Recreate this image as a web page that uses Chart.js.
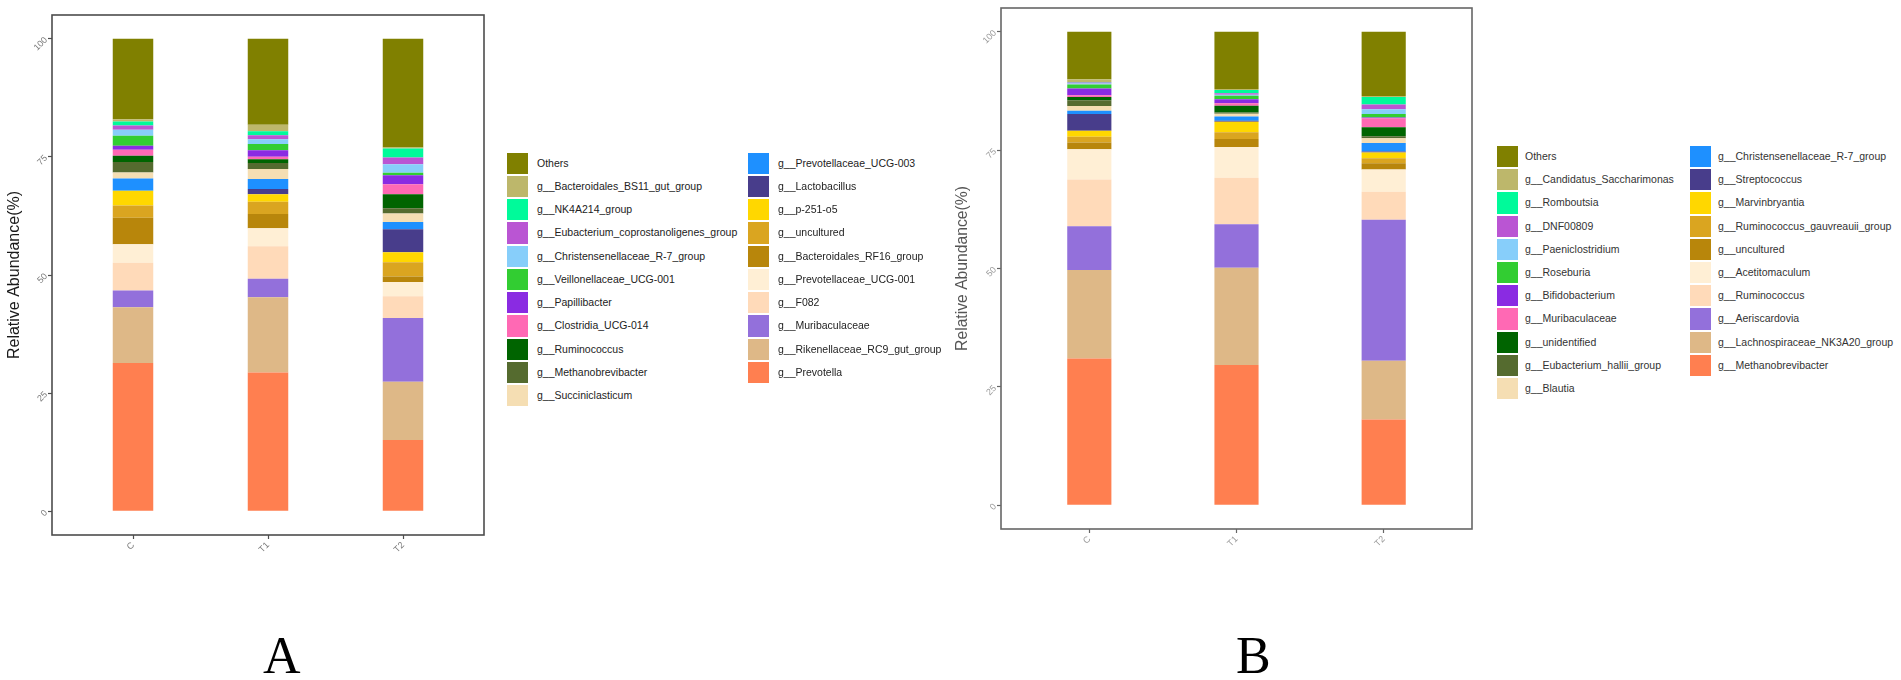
<!DOCTYPE html>
<html>
<head>
<meta charset="utf-8">
<script src="https://cdn.jsdelivr.net/npm/chart.js@4.4.1/dist/chart.umd.min.js"></script>
<style>
  html, body { margin: 0; padding: 0; background: #ffffff; }
  body { width: 1901px; height: 680px; position: relative; overflow: hidden; font-family: "Liberation Sans", Arial, sans-serif; }
  canvas { position: absolute; top: 0; }
  .lg-sw { position: absolute; width: 21.3px; height: 21.3px; }
  .lg-tx { position: absolute; font-size: 10.5px; line-height: 21.3px; white-space: nowrap; }
  .panel-label { position: absolute; font-family: "Liberation Serif", "Times New Roman", serif; font-size: 52px; line-height: 1; color: #000; }
</style>
</head>
<body>
<canvas id="chartA" width="490" height="600" style="left:0px;width:490px;height:600px"></canvas>
<canvas id="chartB" width="540" height="600" style="left:940px;width:540px;height:600px"></canvas>
<div id="legendA"></div>
<div id="legendB"></div>
<div class="panel-label" style="left:263px;top:630px">A</div>
<div class="panel-label" style="left:1236px;top:630px">B</div>
<script>
// ---------- data ----------
const categories = ['C', 'T1', 'T2'];
const yTicks = [0, 25, 50, 75, 100];
const yTitle = 'Relative Abundance(%)';

// Panel A genera (legend order, top of stack first)
const generaA = ['Others', 'g__Bacteroidales_BS11_gut_group', 'g__NK4A214_group',
  'g__Eubacterium_coprostanoligenes_group', 'g__Christensenellaceae_R-7_group',
  'g__Veillonellaceae_UCG-001', 'g__Papillibacter', 'g__Clostridia_UCG-014',
  'g__Ruminococcus', 'g__Methanobrevibacter', 'g__Succiniclasticum',
  'g__Prevotellaceae_UCG-003', 'g__Lactobacillus', 'g__p-251-o5', 'g__uncultured',
  'g__Bacteroidales_RF16_group', 'g__Prevotellaceae_UCG-001', 'g__F082',
  'g__Muribaculaceae', 'g__Rikenellaceae_RC9_gut_group', 'g__Prevotella'];
const valuesA_C  = [17.05, 0.5, 0.85, 0.85, 1.3, 2.1, 0.85, 1.3, 1.3, 2.2, 1.3, 2.6, 0, 3.1, 2.6, 5.6, 3.9, 5.9, 3.5, 11.8, 31.4];
const valuesA_T1 = [18.2, 1.4, 0.85, 0.85, 1.0, 1.3, 1.4, 0.5, 0.8, 1.3, 2.1, 2.1, 1.1, 1.6, 2.6, 3.0, 3.8, 6.9, 3.9, 15.9, 29.4];
const valuesA_T2 = [23.05, 0.2, 1.9, 1.4, 1.8, 0.55, 1.9, 2.1, 3.0, 1.1, 1.8, 1.5, 4.9, 2.1, 3.0, 1.2, 3.0, 4.6, 13.5, 12.3, 15.1];

// Panel B genera (legend order, top of stack first)
const generaB = ['Others', 'g__Candidatus_Saccharimonas', 'g__Romboutsia', 'g__DNF00809',
  'g__Paeniclostridium', 'g__Roseburia', 'g__Bifidobacterium', 'g__Muribaculaceae',
  'g__unidentified', 'g__Eubacterium_hallii_group', 'g__Blautia',
  'g__Christensenellaceae_R-7_group', 'g__Streptococcus', 'g__Marvinbryantia',
  'g__Ruminococcus_gauvreauii_group', 'g__uncultured', 'g__Acetitomaculum',
  'g__Ruminococcus', 'g__Aeriscardovia', 'g__Lachnospiraceae_NK3A20_group',
  'g__Methanobrevibacter'];
const valuesB_C  = [10.05, 0.55, 0.15, 0.2, 0.2, 0.85, 1.4, 0.4, 0.7, 1.2, 1.0, 0.7, 3.5, 1.3, 1.2, 1.4, 6.4, 9.9, 9.2, 18.7, 31.0];
const valuesB_T1 = [12.1, 0.2, 0.7, 0.3, 0.25, 0.7, 0.85, 0.55, 1.4, 0.3, 0.55, 0.9, 0.2, 2.25, 1.4, 1.7, 6.5, 9.8, 9.2, 20.5, 29.65];
const valuesB_T2 = [13.6, 0.2, 1.6, 1.0, 1.0, 0.7, 0.2, 1.9, 1.9, 0.4, 1.0, 1.8, 0.2, 1.2, 1.1, 1.3, 4.7, 5.9, 29.8, 12.4, 18.1];

// shared palette (legend order)
const palette = ['#808000', '#BDB76B', '#00FA9A', '#BA55D3', '#87CEFA', '#32CD32', '#8A2BE2',
  '#FF69B4', '#006400', '#556B2F', '#F5DEB3', '#1E90FF', '#483D8B', '#FFD700', '#DAA520',
  '#B8860B', '#FFEFD5', '#FFDAB9', '#9370DB', '#DEB887', '#FF7F50'];

// ---------- rendering ----------
const FONT = '"Liberation Sans", Arial, sans-serif';

const framePlugin = {
  id: 'frame',
  afterDraw(chart, args, opts) {
    const { ctx, chartArea: a } = chart;
    ctx.save();
    ctx.strokeStyle = opts.color;
    ctx.lineWidth = opts.width;
    ctx.strokeRect(a.left, a.top, a.right - a.left, a.bottom - a.top);
    ctx.restore();
  }
};

function makeChart(id, genera, sampleValues, geo) {
  const datasets = genera.map((g, i) => ({
    label: g,
    data: categories.map((c, j) => ({ x: j + 1, y: sampleValues[j][i] })),
    backgroundColor: palette[i],
    borderWidth: 0,
    barPercentage: 0.3,
    categoryPercentage: 1.0
  })).reverse();

  const gridOpts = {
    display: true, drawOnChartArea: false, drawTicks: true, offset: false,
    tickLength: 4, tickColor: geo.axisColor, tickWidth: 1.2
  };

  return new Chart(document.getElementById(id), {
    type: 'bar',
    data: { datasets },
    plugins: [framePlugin],
    options: {
      responsive: false,
      animation: false,
      layout: { padding: { left: 0, top: geo.top, right: geo.right, bottom: 0 } },
      plugins: {
        legend: { display: false },
        tooltip: { enabled: false },
        frame: { color: geo.axisColor, width: 1.6 }
      },
      scales: {
        x: {
          type: 'linear', stacked: true, min: 0.4, max: 3.6, offset: false,
          afterBuildTicks: s => { s.ticks = categories.map((c, i) => ({ value: i + 1 })); },
          afterFit: s => { s.height = geo.xh; },
          ticks: {
            autoSkip: false, minRotation: 45, maxRotation: 45, padding: 1,
            font: { family: FONT, size: 9 }, color: geo.tickColor,
            callback: v => categories[v - 1] ?? ''
          },
          grid: gridOpts,
          border: { display: false }
        },
        y: {
          stacked: true, min: -5, max: 105,
          afterBuildTicks: s => { s.ticks = yTicks.map(v => ({ value: v })); },
          afterFit: s => { s.width = geo.yw; },
          ticks: {
            minRotation: 45, maxRotation: 45, padding: 2,
            font: { family: FONT, size: 9 }, color: geo.tickColor
          },
          title: {
            display: true, text: yTitle,
            font: { family: FONT, size: geo.titleSize }, color: geo.titleColor,
            padding: { top: geo.titlePad, bottom: 0 }
          },
          grid: Object.assign({}, gridOpts),
          border: { display: false }
        }
      }
    }
  });
}

function makeLegend(containerId, genera, geo) {
  const box = document.getElementById(containerId);
  genera.forEach((g, i) => {
    const col = i < geo.rows ? 0 : 1;
    const row = col === 0 ? i : i - geo.rows;
    const left = col === 0 ? geo.col1 : geo.col2;
    const top = geo.top + row * geo.pitch;
    const sw = document.createElement('div');
    sw.className = 'lg-sw';
    sw.style.left = left + 'px';
    sw.style.top = top + 'px';
    sw.style.background = palette[i];
    box.appendChild(sw);
    const tx = document.createElement('div');
    tx.className = 'lg-tx';
    tx.style.left = (left + geo.textGap) + 'px';
    tx.style.top = top + 'px';
    tx.style.color = geo.color;
    tx.textContent = g;
    box.appendChild(tx);
  });
}

makeChart('chartA', generaA, [valuesA_C, valuesA_T1, valuesA_T2], {
  top: 15, right: 6, yw: 52, xh: 65,
  axisColor: '#4d4d4d', tickColor: '#7a7a7a',
  titleSize: 16, titleColor: '#1a1a1a', titlePad: 5
});
makeChart('chartB', generaB, [valuesB_C, valuesB_T1, valuesB_T2], {
  top: 8, right: 8, yw: 61, xh: 71,
  axisColor: '#666666', tickColor: '#9a9a9a',
  titleSize: 15.7, titleColor: '#555555', titlePad: 13
});

makeLegend('legendA', generaA, { rows: 11, col1: 507, col2: 748, textGap: 30, top: 152.7, pitch: 23.25, color: '#222' });
makeLegend('legendB', generaB, { rows: 11, col1: 1497, col2: 1690, textGap: 28, top: 146, pitch: 23.2, color: '#333' });
</script>
</body>
</html>
